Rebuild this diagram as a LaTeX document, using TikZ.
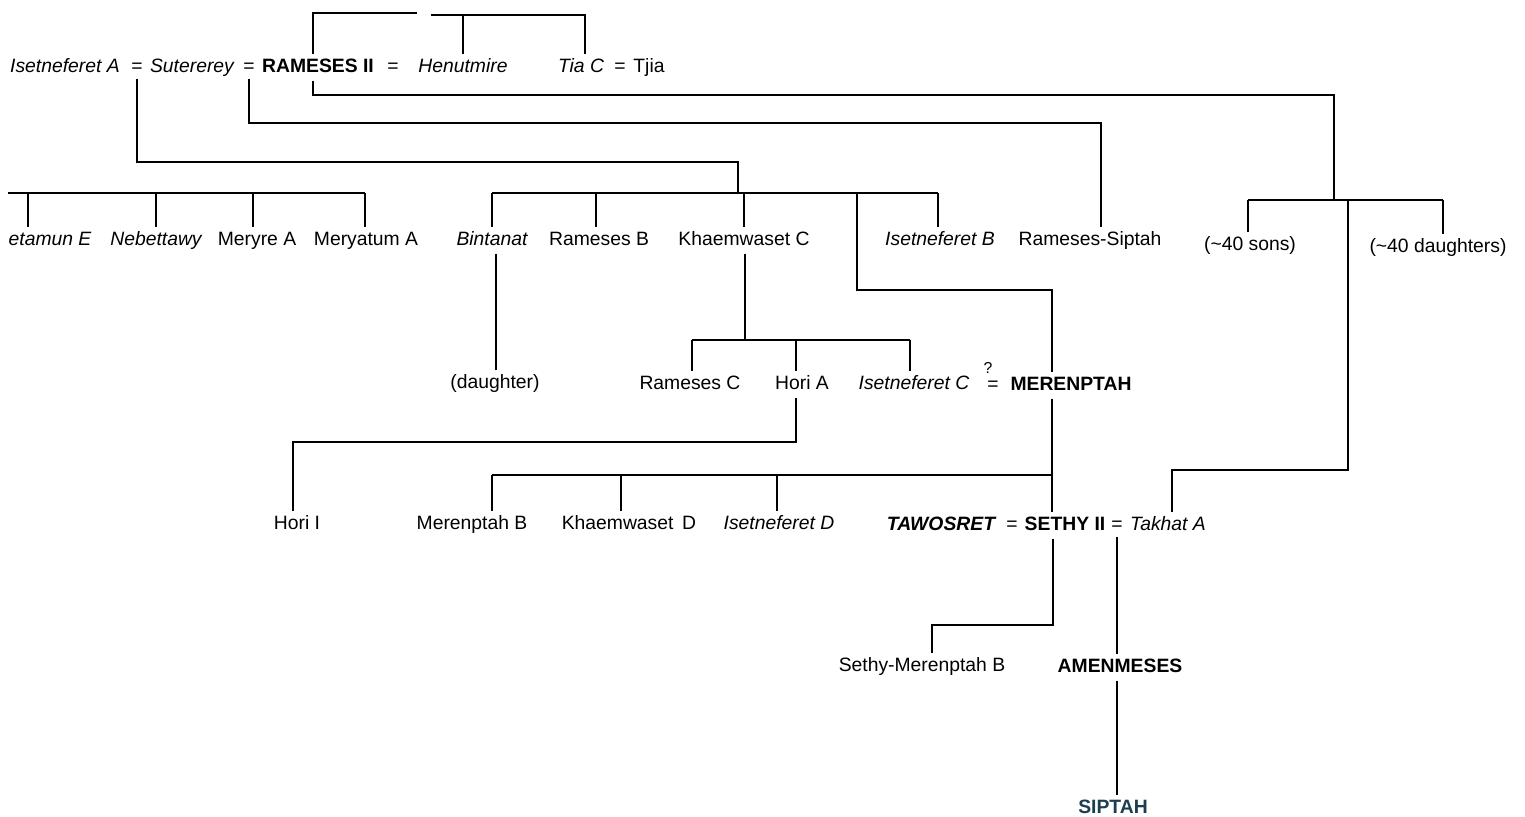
\documentclass[tikz,border=0pt]{standalone}
\usepackage{fontspec}
\setmainfont{Liberation Sans}
\definecolor{siptahblue}{RGB}{28,62,78}
\begin{document}
\begin{tikzpicture}
	[x=0.02cm, y=-0.02cm, line width=0.8pt,
	person/.style={anchor=base, inner sep=2pt, text height=8pt, text depth=2.5pt, font=\fontsize{11}{13}\selectfont},
	wife/.style={person, font=\fontsize{11}{13}\selectfont\itshape},
	king/.style={person, font=\fontsize{11}{13}\selectfont\bfseries},
	queen/.style={person, font=\fontsize{11}{13}\selectfont\bfseries\itshape},
	wed/.style={person, inner sep=1pt}]
	\useasboundingbox (0,0) rectangle (1525,816);
	\node[wife] (isetA) at (65,72) {Isetneferet A};
	\node[wed] (eqA) at (137,72) {=};
	\node[wife] (suter) at (192,72) {Sutererey};
	\node[wed] (eqS) at (249,72) {=};
	\node[king] (ram) at (318,72) {RAMESES II};
	\node[wed] (eqR) at (393,72) {=};
	\node[wife] (henut) at (463,72) {Henutmire};
	\node[wife] (tia) at (581,72) {Tia C};
	\node[wed] (eqTia) at (620,72) {=};
	\node[person] (tjia) at (649,72) {Tjia};
	\node[wife] (etam) at (50,245) {etamun E};
	\node[wife] (nebet) at (156,245) {Nebettawy};
	\node[person] (meryre) at (257,245) {Meryre A};
	\node[person] (meryat) at (366,245) {Meryatum A};
	\node[wife] (bint) at (492,245) {Bintanat};
	\node[person] (ramB) at (599,245) {Rameses B};
	\node[person] (khaemC) at (744,245) {Khaemwaset C};
	\node[wife] (isetB) at (940,245) {Isetneferet B};
	\node[person] (rsip) at (1090,245) {Rameses-Siptah};
	\node[person] (sons) at (1250,250) {(\textasciitilde 40 sons)};
	\node[person] (daus) at (1438,252) {(\textasciitilde 40 daughters)};
	\node[person] (dau) at (495,388) {(daughter)};
	\node[person] (ramC) at (690,389) {Rameses C};
	\node[person] (horiA) at (802,389) {Hori A};
	\node[wife] (isetC) at (914,389) {Isetneferet C};
	\node[wed, font=\fontsize{9}{10}\selectfont] (qm) at (988,373) {?};
	\node[wed] (eqM) at (993,390) {=};
	\node[king] (meren) at (1071,390) {MERENPTAH};
	\node[person] (horiI) at (297,529) {Hori I};
	\node[person] (merB) at (472,529) {Merenptah B};
	\node[person] (khaemD) at (629,529) {Khaemwaset\hspace{0.45em}D};
	\node[wife] (isetD) at (779,529) {Isetneferet D};
	\node[queen] (tawo) at (941,530) {TAWOSRET};
	\node[wed] (eqW) at (1012,530) {=};
	\node[king] (sethy) at (1065,530) {SETHY II};
	\node[wed] (eqT) at (1117,530) {=};
	\node[wife] (takhat) at (1168,530) {Takhat A};
	\node[person] (smB) at (922,671) {Sethy-Merenptah B};
	\node[king] (amen) at (1120,672) {AMENMESES};
	\node[king, text=siptahblue] (sip) at (1113,813) {SIPTAH};
	\coordinate (sibR) at (431,15);
	\coordinate (jL) at (8,193);
	\coordinate (jM) at (738,193);
	\coordinate (jR) at (1334,200);
	\coordinate (jK) at (745,340);
	\coordinate (jS) at (1052,475);
	\draw (ram.north -| 313,0) |- (417,13);
	\draw (sibR) -| (tia.north -| 585,0);
	\draw (henut.north) -- (henut.north |- sibR);
	\draw (ram.south -| 313,0) |- (1334,95) -- (jR);
	\draw (eqA.south) |- (738,162) -- (jM);
	\draw (eqS.south) |- (1101,123) -- (rsip.north -| 1101,0);
	\draw (jL) -- (365,193);
	\draw (28,193) -- (etam.north -| 28,0);
	\draw (nebet.north |- jL) -- (nebet.north);
	\draw (253,193) -- (meryre.north -| 253,0);
	\draw (365,193) -- (meryat.north -| 365,0);
	\draw (492,193) -- (938,193);
	\draw (bint.north |- jM) -- (bint.north);
	\draw (596,193) -- (ramB.north -| 596,0);
	\draw (khaemC.north |- jM) -- (khaemC.north);
	\draw (938,193) -- (isetB.north -| 938,0);
	\draw (857,193) |- (1052,290) -- (meren.north -| 1052,0);
	\draw (1248,200) -- (1443,200);
	\draw (1248,200) -- (sons.north -| 1248,0);
	\draw (1443,200) -- (daus.north -| 1443,0);
	\draw (1348,200) |- (1172,470) -- (takhat.north -| 1172,0);
	\draw (bint.south -| 496,0) -- (dau.north -| 496,0);
	\draw (khaemC.south -| jK) -- (jK);
	\draw (692,340) -- (910,340);
	\draw (692,340) -- (ramC.north -| 692,0);
	\draw (796,340) -- (horiA.north -| 796,0);
	\draw (910,340) -- (isetC.north -| 910,0);
	\draw (horiA.south -| 796,0) |- (293,442) -- (horiI.north -| 293,0);
	\draw (meren.south -| jS) -- (sethy.north -| jS);
	\draw (492,475) -- (jS);
	\draw (492,475) -- (merB.north -| 492,0);
	\draw (621,475) -- (khaemD.north -| 621,0);
	\draw (777,475) -- (isetD.north -| 777,0);
	\draw (sethy.south -| 1053,0) |- (932,625) -- (smB.north -| 932,0);
	\draw (eqT.south) -- (amen.north -| eqT.south);
	\draw (amen.south -| eqT.south) -- (sip.north -| eqT.south);
\end{tikzpicture}
\end{document}
